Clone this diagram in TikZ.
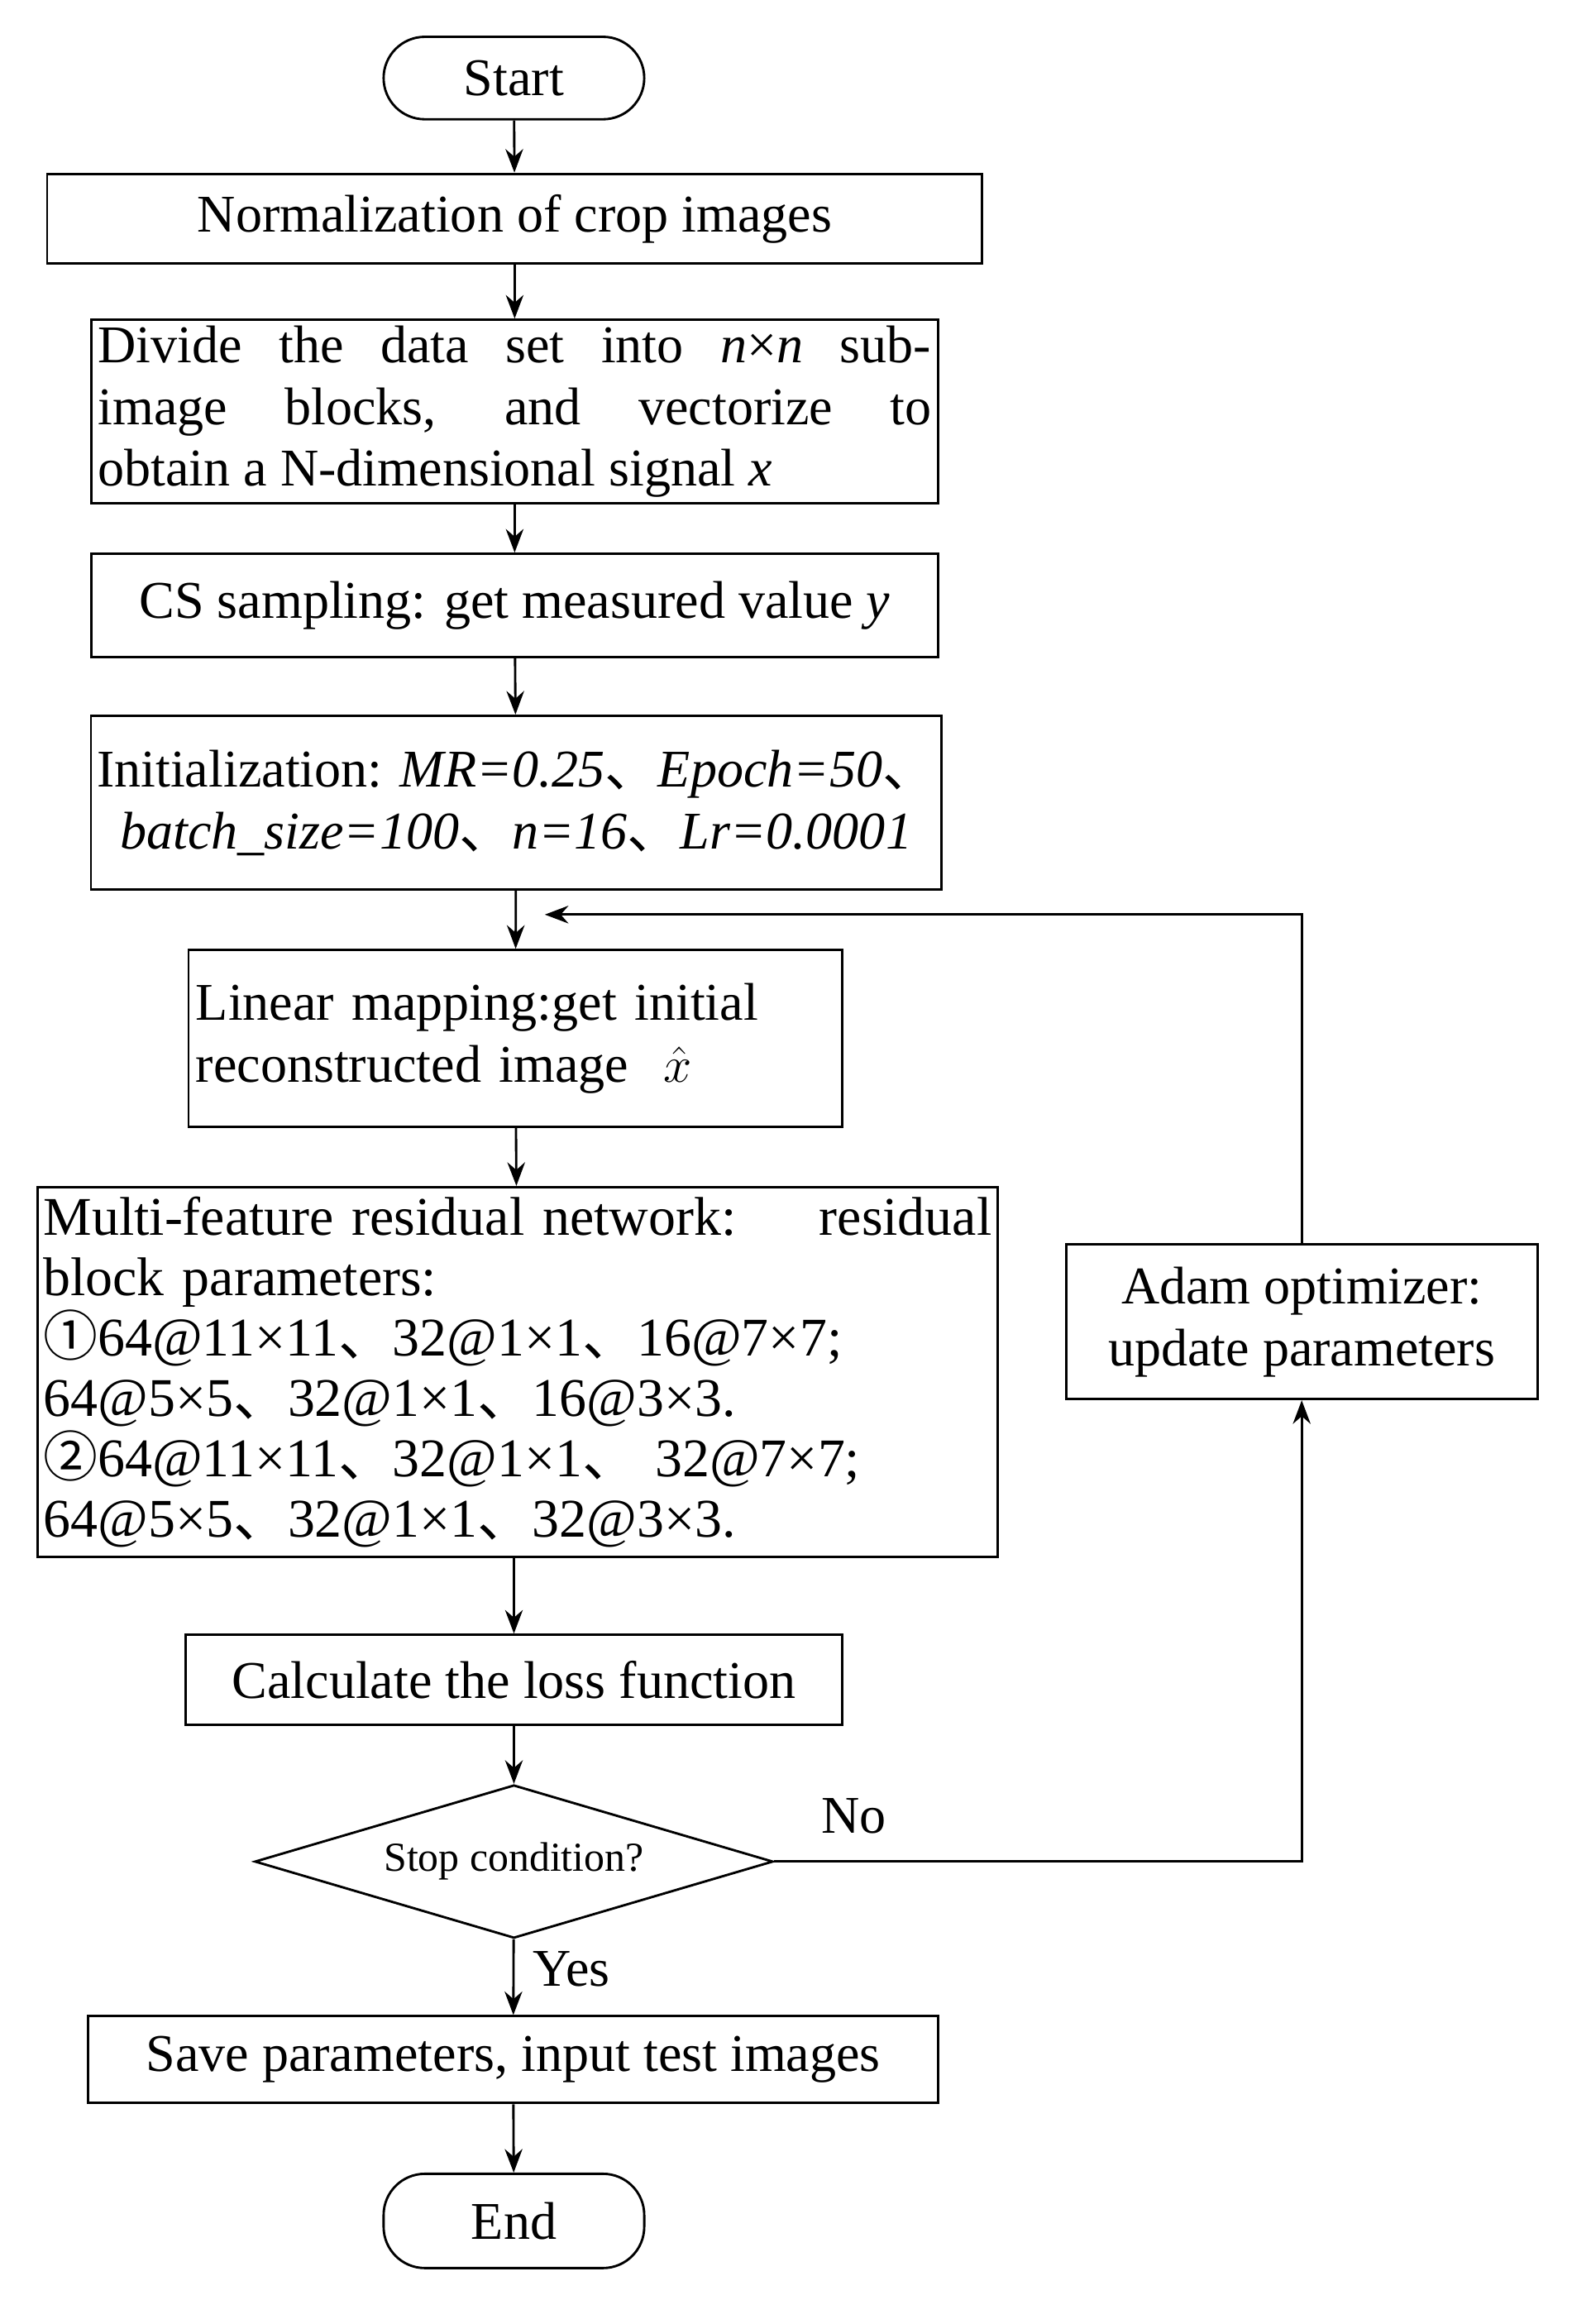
\documentclass[tikz,border=0pt]{standalone}
\usepackage{fontspec}
\setmainfont{Liberation Serif}
\newfontfamily\cjkf{Noto Sans CJK SC}
\newcommand{\dn}{{\cjkf 、}}
\newcommand{\cone}{{\cjkf ①}}
\newcommand{\ctwo}{{\cjkf ②}}
\usetikzlibrary{shapes.geometric,arrows.meta}
\begin{document}
\begin{tikzpicture}[x=0.5pt,y=-0.5pt,
  box/.style={draw,thick,inner sep=2pt,font=\fontsize{18}{21}\selectfont},
  arr/.style={-{Stealth[length=8pt,width=6pt]},thick}]
\useasboundingbox (0,0) rectangle (1080,1578);
\node[box,rounded corners=14pt,minimum width=88.5pt,minimum height=28pt] (start) at (349,53) {Start};
\node[box,minimum width=317.5pt,minimum height=30.5pt] (norm) at (349.5,148.5) {Normalization of crop images};
\node[box,minimum width=287.5pt,minimum height=59.5pt,text width=283pt,align=justify] (div) at (349.5,279.5) {Divide the data set into \textit{n}×\textit{n} sub-\linebreak image blocks, and vectorize to\linebreak obtain a N-dimensional signal \textit{x}};
\node[box,minimum width=287.5pt,minimum height=35pt] (cs) at (349.5,411) {CS sampling: get measured value \textit{y}};
\node[box,minimum width=288.5pt,minimum height=59pt,align=center] (init) at (350.5,545) {Initialization: \textit{MR=0.25}\dn\textit{Epoch=50}\dn\\\textit{batch\_size=100}\dn\textit{n=16}\dn\textit{Lr=0.0001}};
\node[box,minimum width=222pt,minimum height=60pt,text width=217pt,align=left] (lin) at (350,705) {Linear mapping:get initial\\reconstructed image \ $\hat{x}$};
\node[box,minimum width=325.5pt,minimum height=125.5pt,text width=322pt,align=left,font=\fontsize{18.5}{20.5}\selectfont] (multi) at (351.5,931.5) {Multi-feature residual network:\hfill residual\\block parameters:\\
\cone 64@11×11\dn 32@1×1\dn 16@7×7;\\
64@5×5\dn 32@1×1\dn 16@3×3.\\
\ctwo 64@11×11\dn 32@1×1\dn\ 32@7×7;\\
64@5×5\dn 32@1×1\dn 32@3×3.};
\node[box,minimum width=223pt,minimum height=30.5pt] (loss) at (349,1140.5) {Calculate the loss function};
\node[draw,thick,diamond,aspect=3.4,inner sep=0pt,minimum width=176pt,minimum height=52pt,font=\fontsize{14}{17}\selectfont] (stop) at (349,1264) {Stop condition?};
\node[box,minimum width=288.5pt,minimum height=29.5pt] (save) at (348.5,1398.5) {Save parameters, input test images};
\node[box,rounded corners=14pt,minimum width=88.5pt,minimum height=32pt] (end) at (349,1508) {End};
\node[box,minimum width=160pt,minimum height=52.5pt,align=center] (adam) at (884,897.5) {Adam optimizer:\\update parameters};
\coordinate (loopin) at (370,621);
\coordinate (c1) at (884,1264);
\coordinate (c2) at (884,621);
\draw[arr] (start) -- (norm);
\draw[arr] (norm) -- (div);
\draw[arr] (div) -- (cs);
\draw[arr] (cs) -- (init);
\draw[arr] (init) -- (lin);
\draw[arr] (lin) -- (multi);
\draw[arr] (multi.south -| loss) -- (loss);
\draw[arr] (loss) -- (stop);
\draw[arr] (stop) -- (save);
\draw[arr] (save) -- (end);
\draw[arr] (stop.east) -- (c1) -- (adam.south);
\draw[arr] (adam.north) -- (c2) -- (loopin);
\node[font=\fontsize{18}{21}\selectfont] (no) at (580,1233) {No};
\node[font=\fontsize{18}{21}\selectfont] (yes) at (388,1337) {Yes};
\end{tikzpicture}
\end{document}
